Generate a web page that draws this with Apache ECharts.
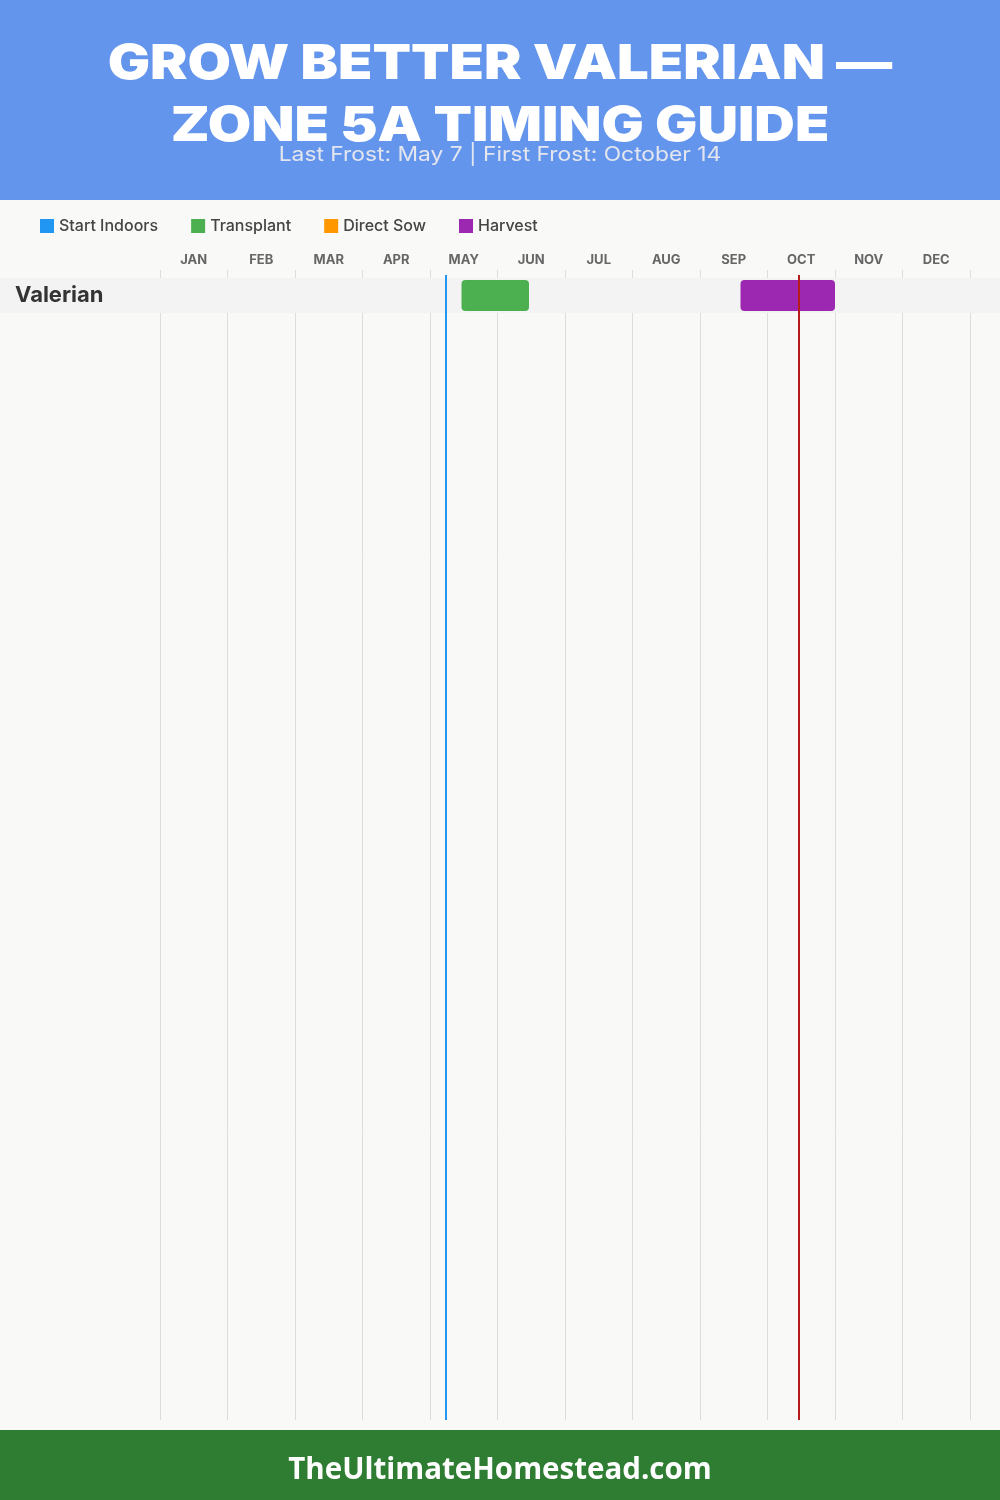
<!DOCTYPE html>
<html>
<head>
<meta charset="utf-8">
<script src="https://cdn.jsdelivr.net/npm/echarts@6/dist/echarts.min.js"></script>
<style>
html,body{margin:0;padding:0;background:#F9F9F7;}
#main{width:1000px;height:1500px;}
</style>
</head>
<body>
<div id="main"></div>
<script>
// ---- data ----
const months = ['JAN','FEB','MAR','APR','MAY','JUN','JUL','AUG','SEP','OCT','NOV','DEC'];
const crops = ['Valerian'];
const startIndoors = [];                 // none
const transplant = [['05-14','06-14']];  // per crop
const directSow = [];                    // none
const harvest = [['09-18','10-30']];     // per crop
const lastFrost = '05-07';
const firstFrost = '10-14';
const titleLines = ['GROW BETTER VALERIAN —', 'ZONE 5A TIMING GUIDE'];
const subtitle = 'Last Frost: May 7 | First Frost: October 14';
const footer = 'TheUltimateHomestead.com';
const legendNames = ['Start Indoors','Transplant','Direct Sow','Harvest'];
const colors = {'Start Indoors':'#2196F3','Transplant':'#4CAF50','Direct Sow':'#FF9800','Harvest':'#9C27B0'};

// month-day string -> fractional month position on 0..12 scale
function toM(s){ const p=s.split('-'); return (parseInt(p[0],10)-1) + parseInt(p[1],10)/30; }

function rangeData(arr){
  const out=[];
  arr.forEach((r,i)=>{ if(r) out.push([toM(r[0]), toM(r[1]), i]); });
  return out;
}

function barRender(params, api){
  const s = api.coord([api.value(0), api.value(2)]);
  const e = api.coord([api.value(1), api.value(2)]);
  const h = api.size([0,1])[1] * 0.886;
  return {
    type:'rect',
    shape:{x:s[0], y:s[1]-h/2, width:e[0]-s[0], height:h, r:4},
    style: api.style()
  };
}

const FONT = 'Inter, "Noto Sans", sans-serif';
const chart = echarts.init(document.getElementById('main'), null, {renderer:'canvas'});

const option = {
  backgroundColor:'#F9F9F7',
  animation:false,
  textStyle:{fontFamily:FONT},
  graphic:[
    {type:'rect', z:-10, shape:{x:0,y:0,width:1000,height:200}, style:{fill:'#6495ED'}},
    {type:'rect', z:-10, shape:{x:0,y:1430,width:1000,height:70}, style:{fill:'#2E7D32'}},
    {type:'text', z:10, x:500, y:65, scaleX:1.17, style:{text:titleLines[0], fill:'#fff', align:'center', verticalAlign:'middle', font:'900 48px Inter, sans-serif'}},
    {type:'text', z:10, x:500, y:127, scaleX:1.17, style:{text:titleLines[1], fill:'#fff', align:'center', verticalAlign:'middle', font:'900 48px Inter, sans-serif'}},
    {type:'text', z:11, x:500, y:155, scaleX:1.14, style:{text:subtitle, fill:'#E3E6EE', align:'center', verticalAlign:'middle', font:'400 20px Inter, sans-serif'}},
    {type:'text', z:10, x:500, y:1471, style:{text:footer, fill:'#fff', align:'center', verticalAlign:'middle', font:'bold 29.5px "Open Sans", sans-serif'}}
  ],
  legend:{
    data:legendNames, left:40, top:218, padding:0, icon:'rect', itemWidth:14, itemHeight:14, itemGap:33,
    textStyle:{color:'#444', fontSize:16, fontWeight:500, fontFamily:FONT}
  },
  grid:[
    {left:160, right:30, top:270, bottom:80},
    {left:160, right:30, top:278, height:35},
    {left:160, right:30, top:275, bottom:80}
  ],
  xAxis:[
    {type:'category', gridIndex:0, data:months, position:'top', boundaryGap:true,
     axisLine:{show:false}, axisTick:{show:false},
     axisLabel:{color:'#666', fontSize:13, fontWeight:'bold', margin:3, fontFamily:FONT},
     splitLine:{show:true, lineStyle:{color:'#DDDDDD', width:1}}},
    {type:'value', gridIndex:1, min:0, max:12, show:false},
    {type:'value', gridIndex:2, min:0, max:12, show:false}
  ],
  yAxis:[
    {type:'value', gridIndex:0, show:false},
    {type:'category', gridIndex:1, data:crops, inverse:true, z:20,
     axisLine:{show:false}, axisTick:{show:false}, splitLine:{show:false},
     axisLabel:{align:'left', margin:145, color:'#333', fontSize:22, fontWeight:'bold', fontFamily:FONT, padding:[3,0,0,0]}},
    {type:'value', gridIndex:2, min:0, max:1, show:false}
  ],
  series:[
    {type:'custom', name:'rowband', xAxisIndex:1, yAxisIndex:1, silent:true, z:1,
     data:crops.map((c,i)=>[0,i]), encode:{x:0,y:1},
     renderItem:function(params, api){
       const c = api.coord([0, api.value(1)]);
       const h = api.size([0,1])[1];
       return {type:'rect', shape:{x:0, y:c[1]-h/2, width:api.getWidth(), height:h}, style:{fill:'#F3F3F3'}};
     }},
    {type:'custom', name:'Start Indoors', xAxisIndex:1, yAxisIndex:1, z:3, itemStyle:{color:colors['Start Indoors']},
     data:rangeData(startIndoors), encode:{x:[0,1], y:2}, renderItem:barRender},
    {type:'custom', name:'Transplant', xAxisIndex:1, yAxisIndex:1, z:3, itemStyle:{color:colors['Transplant']},
     data:rangeData(transplant), encode:{x:[0,1], y:2}, renderItem:barRender},
    {type:'custom', name:'Direct Sow', xAxisIndex:1, yAxisIndex:1, z:3, itemStyle:{color:colors['Direct Sow']},
     data:rangeData(directSow), encode:{x:[0,1], y:2}, renderItem:barRender},
    {type:'custom', name:'Harvest', xAxisIndex:1, yAxisIndex:1, z:3, itemStyle:{color:colors['Harvest']},
     data:rangeData(harvest), encode:{x:[0,1], y:2}, renderItem:barRender},
    {type:'line', name:'frost', xAxisIndex:2, yAxisIndex:2, z:10, data:[], showSymbol:false,
     markLine:{silent:true, symbol:['none','none'], label:{show:false},
       data:[
         {xAxis:toM(lastFrost), lineStyle:{color:'#2196F3', width:2, type:'solid'}},
         {xAxis:toM(firstFrost), lineStyle:{color:'#B71C1C', width:2, type:'solid'}}
       ]}}
  ]
};
chart.setOption(option);
</script>
</body>
</html>
